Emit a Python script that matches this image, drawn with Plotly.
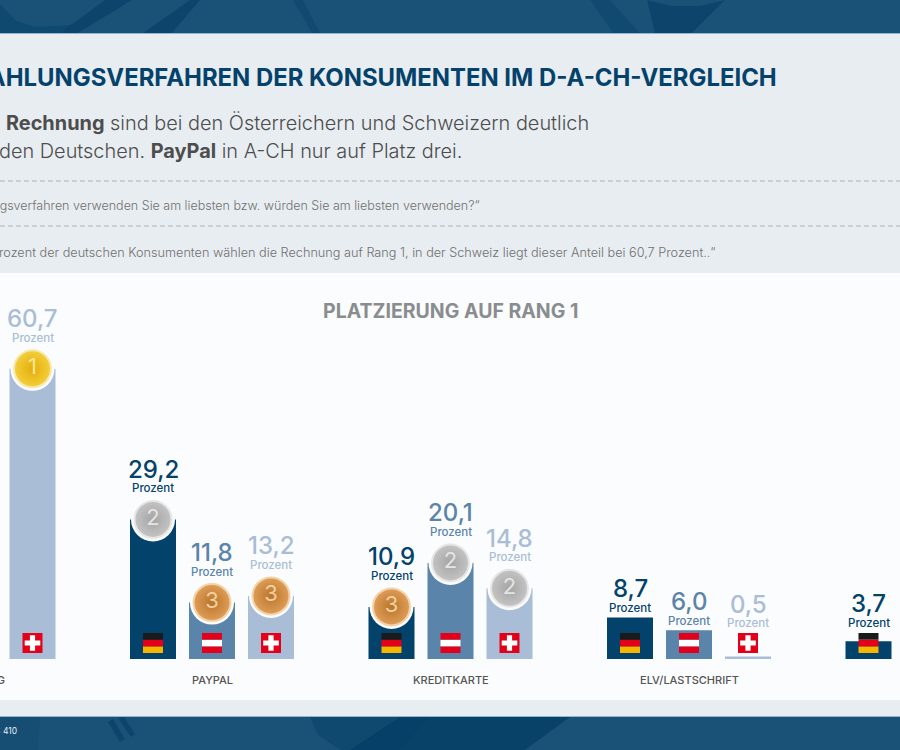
import plotly.graph_objects as go

# --- data ---
categories = ["RECHNUNG", "PAYPAL", "KREDITKARTE", "ELV/LASTSCHRIFT", "SOFORT"]
countries = ["D", "A", "CH"]
values_d = [None, 29.2, 10.9, 8.7, 3.7]
values_a = [None, 11.8, 20.1, 6.0, None]
values_ch = [60.7, 13.2, 14.8, 0.5, None]
ranks_d = [None, 2, 3, None, None]
ranks_a = [None, 3, 2, None, None]
ranks_ch = [1, 3, 2, None, None]
labels_d = [None, "29,2", "10,9", "8,7", "3,7"]
labels_a = [None, "11,8", "20,1", "6,0", None]
labels_ch = ["60,7", "13,2", "14,8", "0,5", None]
unit = "Prozent"
chart_title = "PLATZIERUNG AUF RANG 1"
headline = "ZAHLUNGSVERFAHREN DER KONSUMENTEN IM D-A-CH-VERGLEICH"
lead_1 = "<b>Rechnung</b> sind bei den Österreichern und Schweizern deutlich"
lead_2 = "den Deutschen. <b>PayPal</b> in A-CH nur auf Platz drei."
question = "Zahlungsverfahren verwenden Sie am liebsten bzw. würden Sie am liebsten verwenden?“"
finding = "Prozent der deutschen Konsumenten wählen die Rechnung auf Rang 1, in der Schweiz liegt dieser Anteil bei 60,7 Prozent..“"
footer = "≤ 410"

W, H = 900, 750
PX_PER_UNIT = 4.78
BASE_PX = 659
GROUP_PX = 238.5
FIRST_GROUP_PX = -26.5
SLOT_PX = 59

C_D, C_A, C_CH = "#03426b", "#5a84a9", "#a9bdd6"
BAND = "#1a5277"; BAND_DARK = "rgba(3,60,100,0.6)"
PANEL = "#e8edf1"; WHITE = "#fbfcfd"
FONT = "Inter"

series = [
    ("D", values_d, ranks_d, labels_d, C_D, -1),
    ("A", values_a, ranks_a, labels_a, C_A, 0),
    ("CH", values_ch, ranks_ch, labels_ch, C_CH, 1),
]
medal = {1: ("#e3ae0c", "#f4cf3a", "#f6e9b0", "#f8e592"),
         2: ("#a4a4a4", "#c4c4c4", "#e6e6e6", "#e4e4e4"),
         3: ("#b9752a", "#df9d58", "#f2d3a8", "#f0cfa0")}


def fx(px):
    return px / W


def fy(px):
    return 1 - px / H


slot = SLOT_PX / GROUP_PX
fig = go.Figure()
for name, vals, ranks, labels, col, k in series:
    fig.add_trace(go.Bar(x=categories, y=vals, name=name, marker_color=col, marker_line_width=0))

shapes = []


def rect(x0, y0, x1, y1, col, layer="below"):
    shapes.append(dict(type="rect", xref="paper", yref="paper", x0=fx(x0), x1=fx(x1), y0=fy(y0), y1=fy(y1),
                       fillcolor=col, line_width=0, layer=layer))


def poly(points, col):
    path = "M " + " L ".join("%.5f %.5f" % (fx(a), fy(b)) for a, b in points) + " Z"
    shapes.append(dict(type="path", xref="paper", yref="paper", path=path, fillcolor=col, line_width=0,
                       layer="below"))


rect(0, 0, W, 33, BAND)
rect(0, 717, W, H, BAND)
# subdued photo texture in the dark bands
poly([(60, 33), (78, 33), (132, 0), (105, 0)], BAND_DARK)
poly([(0, 4), (0, 33), (60, 33), (72, 25), (35, 27), (15, 20)], "rgba(3,60,100,0.4)")
poly([(143, 33), (172, 33), (200, 0), (190, 0)], BAND_DARK)
poly([(293, 0), (312, 33), (320, 33), (303, 0)], "rgba(3,60,100,0.35)")
poly([(590, 0), (613, 33), (640, 33), (610, 0)], "rgba(3,60,100,0.35)")
poly([(647, 0), (655, 33), (692, 33), (725, 0), (700, 6), (672, 6)], BAND_DARK)
poly([(310, 717), (318, 735), (340, 750), (400, 750), (430, 717)], "rgba(3,60,100,0.4)")
poly([(400, 717), (350, 750), (525, 750), (570, 717)], "rgba(3,60,100,0.7)")
poly([(108, 722), (120, 742), (125, 739), (113, 719)], BAND_DARK)
poly([(118, 718), (131, 737), (135, 734), (124, 717)], BAND_DARK)
poly([(0, 717), (0, 750), (38, 750), (40, 717)], "rgba(3,60,100,0.2)")

rect(0, 33, W, 716, PANEL)
rect(0, 33, W, 34, "#8fb5d3")
rect(0, 716, W, 717, "#8fb5d3")
rect(0, 273, W, 700, WHITE)
for yy in (181, 226):
    shapes.append(dict(type="line", xref="paper", yref="paper", x0=0, x1=1, y0=fy(yy), y1=fy(yy),
                       line=dict(color="#a0a3a7", width=0.8, dash="5px,3px"), layer="below"))

# flags
fy0 = (BASE_PX - 653) / PX_PER_UNIT
fy1 = (BASE_PX - 633) / PX_PER_UNIT
fw = 10 / GROUP_PX
third = (fy1 - fy0) / 3
stripes = {"D": ["#f7b500", "#e2001a", "#1a1a1a"], "A": ["#e2001a", "#ffffff", "#e2001a"]}
ch_x, ch_y = [], []
for name, vals, ranks, labels, col, k in series:
    for i, v in enumerate(vals):
        if v is None:
            continue
        cx = i + k * slot
        if name == "CH":
            ch_x.append(cx)
            ch_y.append((fy0 + fy1) / 2)
        else:
            for j, c in enumerate(stripes[name]):
                shapes.append(dict(type="rect", xref="x2", yref="y", x0=cx - fw, x1=cx + fw,
                                   y0=fy0 + j * third, y1=fy0 + (j + 1) * third,
                                   fillcolor=c, line_width=0, layer="above"))
fig.add_trace(go.Scatter(x=ch_x, y=ch_y, mode="markers", xaxis="x2", showlegend=False,
                         marker=dict(symbol="square", size=20, color="#e2001a", line_width=0)))
fig.add_trace(go.Scatter(x=ch_x, y=ch_y, mode="markers", xaxis="x2", showlegend=False,
                         marker=dict(symbol="cross", size=13, color="#ffffff", line_width=0)))

# medals + ring cut-outs
for name, vals, ranks, labels, col, k in series:
    xs = [i + k * slot for i, r in enumerate(ranks) if r]
    ys = [vals[i] for i, r in enumerate(ranks) if r]
    rs = [r for r in ranks if r]
    fig.add_trace(go.Scatter(x=xs, y=ys, mode="markers", xaxis="x2",
                             marker=dict(size=44, color=WHITE, line_width=0), showlegend=False))
    fig.add_trace(go.Scatter(x=xs, y=ys, mode="markers+text", xaxis="x2", text=[str(r) for r in rs],
                             textposition="middle center",
                             textfont=dict(family=FONT, size=22, color=[medal[r][3] for r in rs]),
                             marker=dict(size=37, color=[medal[r][1] for r in rs],
                                         gradient=dict(type="radial", color=[medal[r][0] for r in rs]),
                                         line=dict(width=2, color=[medal[r][2] for r in rs])),
                             showlegend=False))

ann = []


def text(px, py, s, size, col, anchor="left", weight=400):
    ann.append(dict(xref="paper", yref="paper", x=fx(px), y=fy(py), text=s, showarrow=False, xanchor=anchor,
                    yanchor="middle", font=dict(family=FONT, size=size, color=col, weight=weight)))


text(779, 78, "<b>%s</b>" % headline, 23.9, "#04426b", "right")
text(4, 123, lead_1, 19.9, "#4d4d4d", weight=300)
text(-3, 151, lead_2, 19.9, "#4d4d4d", weight=300)
text(482, 205, question, 12.5, "#707070", "right", 300)
text(718, 252, finding, 12.7, "#707070", "right", 300)
text(450, 311, "<b>%s</b>" % chart_title, 19.5, "#8a8d90", "center")
text(19, 731, footer, 8.5, "#e8eef3", "right")
for i, c in enumerate(categories):
    text(FIRST_GROUP_PX + i * GROUP_PX, 680, c, 11, "#555555", "center", 500)

for name, vals, ranks, labels, col, k in series:
    for i, v in enumerate(vals):
        if v is None:
            continue
        shift = 31 if ranks[i] else max(9.5, 36 - v * PX_PER_UNIT)
        cx = i + k * slot
        ann.append(dict(xref="x2", yref="y", x=cx, y=v, yshift=shift, text=unit, showarrow=False,
                        xanchor="center", yanchor="middle",
                        font=dict(family=FONT, size=11.5, color=col, weight=500)))
        ann.append(dict(xref="x2", yref="y", x=cx, y=v, yshift=shift + 19, text=labels[i], showarrow=False,
                        xanchor="center", yanchor="middle",
                        font=dict(family=FONT, size=24, color=col, weight=500)))

xr = [-FIRST_GROUP_PX / GROUP_PX, (W - FIRST_GROUP_PX) / GROUP_PX]
fig.update_layout(
    width=W, height=H, autosize=False, margin=dict(l=0, r=0, t=0, b=0),
    paper_bgcolor=WHITE, plot_bgcolor="rgba(0,0,0,0)", showlegend=False,
    barmode="group", bargap=1 - 3 * slot, bargroupgap=1 - 46 / SLOT_PX,
    xaxis=dict(type="category", categoryorder="array", categoryarray=categories, range=xr, visible=False,
               domain=[0, 1]),
    xaxis2=dict(type="linear", range=xr, visible=False, overlaying="x", anchor="y"),
    yaxis=dict(range=[-(H - BASE_PX) / PX_PER_UNIT, BASE_PX / PX_PER_UNIT], visible=False, domain=[0, 1]),
    shapes=shapes, annotations=ann,
)
fig.write_html("out.html", config={"displayModeBar": False},
               post_script="document.body.style.margin='0';document.body.style.overflow='hidden';")
